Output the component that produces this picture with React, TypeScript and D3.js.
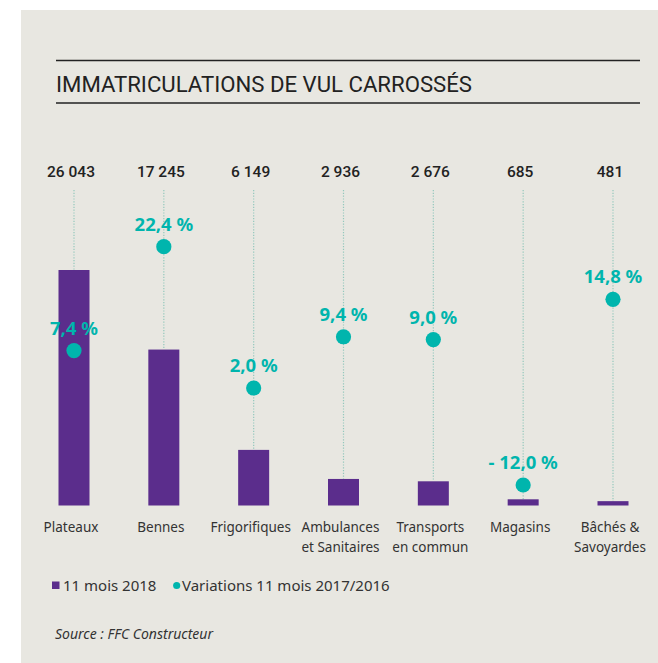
import React from "react";
import * as d3 from "d3";

const WIDTH = 658;
const HEIGHT = 663;

const categories = [
  "Plateaux",
  "Bennes",
  "Frigorifiques",
  "Ambulances\net Sanitaires",
  "Transports\nen commun",
  "Magasins",
  "Bâchés &\nSavoyardes",
];
const registrations2018 = [26043, 17245, 6149, 2936, 2676, 685, 481];
const variations = [7.4, 22.4, 2.0, 9.4, 9.0, -12.0, 14.8];
const legendLabels = ["11 mois 2018", "Variations 11 mois 2017/2016"];

const PURPLE = "#5b2d8c";
const TEAL = "#00b5ad";
const BG = "#e8e7e1";
const CONDENSED = "'Roboto', 'Liberation Sans Narrow', sans-serif";
const SANS = "'Noto Sans', 'Open Sans', sans-serif";

const fr = d3.formatLocale({
  decimal: ",",
  thousands: "\u00a0",
  grouping: [3],
  currency: ["", " €"],
});
const fmtInt = fr.format(",d");
const fmtPct = (v: number) =>
  (v < 0 ? "- " : "") + fr.format(".1f")(Math.abs(v)) + "\u00a0%";

const App = () => {
  const x = d3.scalePoint<string>().domain(categories).range([74, 613]);
  const y = d3
    .scaleLinear()
    .domain([0, d3.max(registrations2018) as number])
    .range([505.5, 270]);
  const yVar = d3
    .scaleLinear()
    .domain(d3.extent(variations) as [number, number])
    .range([485, 246.7]);
  const barW = 31;

  return (
    <>
      <style>{`body{margin:0}`}</style>
      <svg width={WIDTH} height={HEIGHT} style={{ display: "block" }}>
        <rect x={21} y={10} width={WIDTH - 21} height={HEIGHT - 10} fill={BG} />

        {/* title */}
        <line x1={56} x2={640} y1={60.5} y2={60.5} stroke="#222" strokeWidth={1.4} />
        <line x1={56} x2={640} y1={103} y2={103} stroke="#222" strokeWidth={1.4} />
        <text
          x={56}
          y={92}
          fontFamily={CONDENSED}
          fontSize={22}
          fill="#222"
          textLength={416}
          lengthAdjust="spacingAndGlyphs"
        >
          IMMATRICULATIONS DE VUL CARROSSÉS
        </text>

        {categories.map((c, i) => {
          const cx = x(c) as number;
          const lines = c.split("\n");
          return (
            <g key={c}>
              <text
                x={cx - 3}
                y={176.5}
                textAnchor="middle"
                fontFamily={CONDENSED}
                fontWeight={500}
                fontSize={15.5}
                fill="#222"
              >
                {fmtInt(registrations2018[i])}
              </text>
              <line
                x1={cx}
                x2={cx}
                y1={190}
                y2={y(registrations2018[i])}
                stroke="#93c8bc"
                strokeWidth={1.2}
                strokeDasharray="1.2 1.6"
              />
              <rect
                x={cx - barW / 2}
                y={y(registrations2018[i])}
                width={barW}
                height={y(0) - y(registrations2018[i])}
                fill={PURPLE}
              />
              <circle cx={cx} cy={yVar(variations[i])} r={7.6} fill={TEAL} />
              <text
                x={cx}
                y={yVar(variations[i]) - 16}
                textAnchor="middle"
                fontFamily={SANS}
                fontWeight={700}
                fontSize={18.5}
                fill={TEAL}
              >
                {fmtPct(variations[i])}
              </text>
              {lines.map((l, j) => (
                <text
                  key={j}
                  x={cx - 3}
                  y={532 + j * 19.5}
                  textAnchor="middle"
                  fontFamily={SANS}
                  fontSize={13.5}
                  fill="#333"
                >
                  {l}
                </text>
              ))}
            </g>
          );
        })}

        {/* legend */}
        <rect x={52} y={581.5} width={7.5} height={7.5} fill={PURPLE} />
        <text x={63} y={590.5} fontFamily={SANS} fontSize={15} fill="#333">
          {legendLabels[0]}
        </text>
        <circle cx={176.7} cy={585.5} r={3.6} fill={TEAL} />
        <text x={182} y={590.5} fontFamily={SANS} fontSize={15} fill="#333">
          {legendLabels[1]}
        </text>

        <text
          x={55}
          y={638.5}
          fontFamily={SANS}
          fontStyle="italic"
          fontSize={14}
          fill="#333"
        >
          Source : FFC Constructeur
        </text>
      </svg>
    </>
  );
};

export default App;
